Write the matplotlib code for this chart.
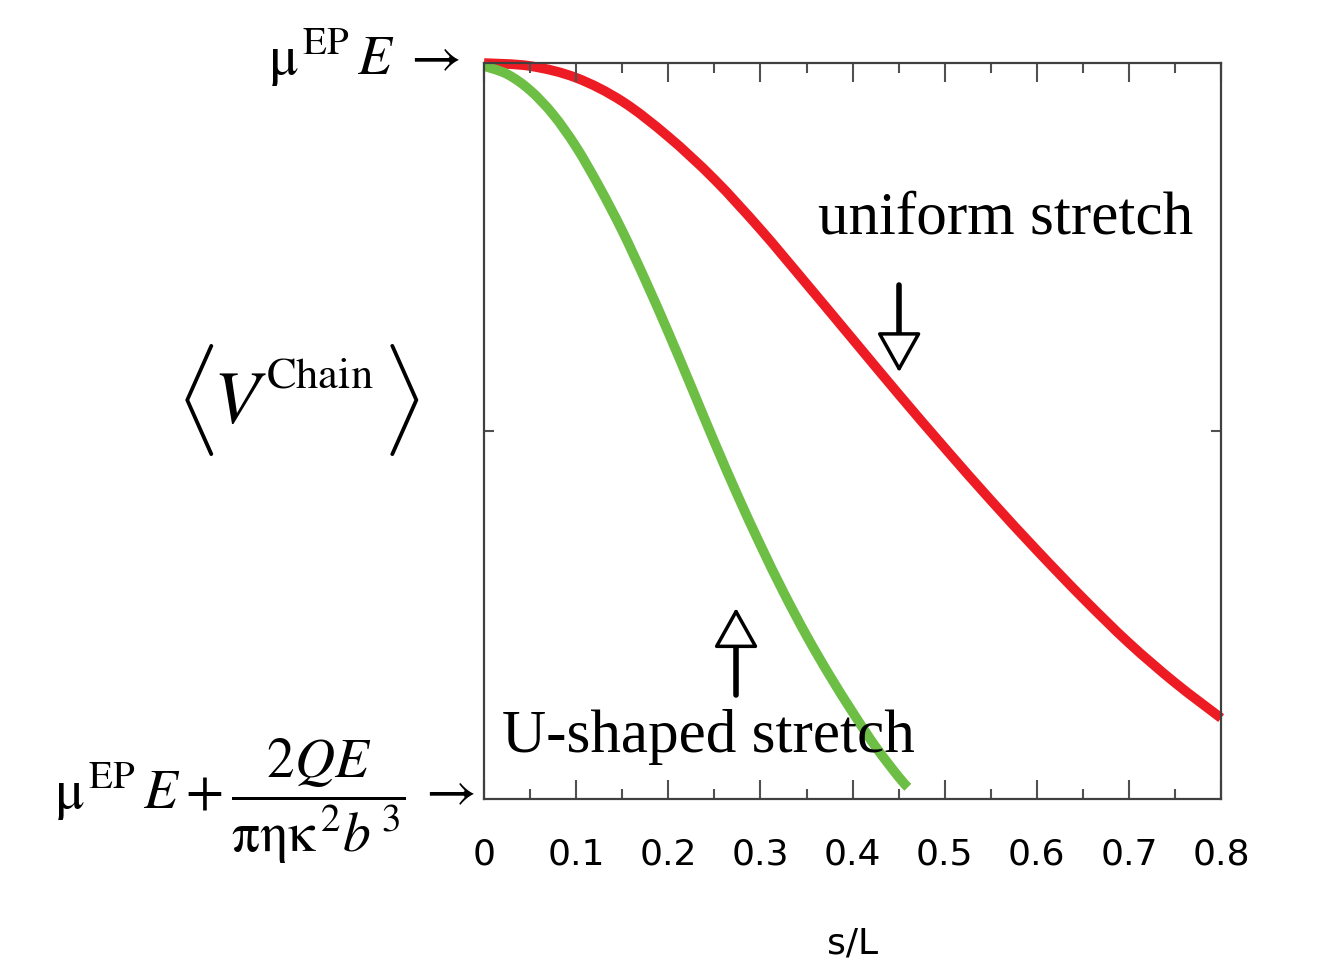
import matplotlib
matplotlib.use("Agg")
import matplotlib.pyplot as plt
from matplotlib.path import Path
from matplotlib.patches import PathPatch
from matplotlib.ticker import MultipleLocator

# values (s/L, normalised <V^Chain>)
s_uniform = [0.0, 0.05, 0.1, 0.15, 0.2, 0.25, 0.3, 0.35, 0.4, 0.45, 0.5,
             0.55, 0.6, 0.65, 0.7, 0.75, 0.8]
v_uniform = [1.0, 0.996, 0.980, 0.948, 0.900, 0.842, 0.774, 0.700, 0.625,
             0.550, 0.477, 0.406, 0.338, 0.273, 0.212, 0.158, 0.110]

s_ushape = [0.0, 0.025, 0.05, 0.075, 0.1, 0.125, 0.15, 0.175, 0.2, 0.225,
            0.25, 0.275, 0.3, 0.325, 0.35, 0.375, 0.4, 0.425, 0.45, 0.46]
v_ushape = [0.996, 0.985, 0.963, 0.930, 0.886, 0.832, 0.772, 0.705, 0.634,
            0.560, 0.485, 0.413, 0.345, 0.281, 0.222, 0.168, 0.118, 0.071,
            0.030, 0.016]

x_ticks = [0, 0.1, 0.2, 0.3, 0.4, 0.5, 0.6, 0.7, 0.8]
x_ticklabels = ['0', '0.1', '0.2', '0.3', '0.4', '0.5', '0.6', '0.7', '0.8']


def smooth_path(xs, ys):
    # catmull-rom through the read points, drawn as bezier segments
    pts = list(zip(xs, ys))
    verts = [pts[0]]
    codes = [Path.MOVETO]
    n = len(pts)
    for i in range(n - 1):
        p0 = pts[i - 1] if i > 0 else pts[i]
        p1 = pts[i]
        p2 = pts[i + 1]
        p3 = pts[i + 2] if i + 2 < n else pts[i + 1]
        c1 = (p1[0] + (p2[0] - p0[0]) / 6, p1[1] + (p2[1] - p0[1]) / 6)
        c2 = (p2[0] - (p3[0] - p1[0]) / 6, p2[1] - (p3[1] - p1[1]) / 6)
        verts += [c1, c2, p2]
        codes += [Path.CURVE4] * 3
    return Path(verts, codes)


plt.rcParams['mathtext.fontset'] = 'stix'

fig = plt.figure(figsize=(13.19, 9.69), dpi=100)
ax = fig.add_axes([0.367, 0.1754, 0.5588, 0.7595])

ax.add_patch(PathPatch(smooth_path(s_uniform, v_uniform), fill=False,
                       ec='#ED1C24', lw=7, capstyle='butt', clip_on=False))
ax.add_patch(PathPatch(smooth_path(s_ushape, v_ushape), fill=False,
                       ec='#6DBE45', lw=7, capstyle='butt', clip_on=False))

ax.set_xlim(0, 0.8)
ax.set_ylim(0, 1)
ax.set_xticks(x_ticks)
ax.set_xticklabels(x_ticklabels)
ax.xaxis.set_minor_locator(MultipleLocator(0.05))
ax.set_yticks([0.5])
ax.set_yticklabels([])

for sp in ax.spines.values():
    sp.set_color('#404040')
    sp.set_linewidth(1.6)

ax.tick_params(axis='x', which='major', direction='in', top=True, length=14,
               width=1.5, color='#505050', labelsize=26, pad=28)
ax.tick_params(axis='x', which='minor', direction='in', top=True, length=7,
               width=1.5, color='#505050')
ax.tick_params(axis='y', which='major', direction='in', right=True, length=7,
               width=1.5, color='#505050')

ax.set_xlabel('s/L', fontsize=26, labelpad=39)

# curve labels and pointing arrows
ax.text(0.3626, 0.769, 'uniform stretch', fontsize=44,
        family='Liberation Serif', va='baseline', ha='left')
ax.text(0.0195, 0.064, 'U-shaped stretch', fontsize=44,
        family='Liberation Serif', va='baseline', ha='left', clip_on=False)

arrow_kw = dict(arrowstyle='-|>,head_length=25,head_width=14',
                mutation_scale=1, fc='white', ec='black', lw=2.5,
                shrinkA=0, shrinkB=0)
ax.annotate('', xy=(0.4505, 0.580), xytext=(0.4505, 0.698),
            arrowprops=arrow_kw)
ax.plot([0.4505, 0.4505], [0.698, 0.628], color='black', lw=4,
        solid_capstyle='round')
ax.annotate('', xy=(0.2735, 0.2595), xytext=(0.2735, 0.141),
            arrowprops=arrow_kw)
ax.plot([0.2735, 0.2735], [0.141, 0.212], color='black', lw=4,
        solid_capstyle='round')

# y-axis annotations
fig.text(0.3487, 0.9226, r'$\mathrm{\mu}^{\,\mathrm{EP}}\,E\;\rightarrow$',
         fontsize=40, ha='right', va='baseline')

# <V^Chain> built from pieces so the brackets can be tall and thin
fig.text(0.1478, 0.5872, r'$\langle$', fontsize=68, ha='center',
         va='center', math_fontfamily='cm')
fig.text(0.3040, 0.5872, r'$\rangle$', fontsize=68, ha='center',
         va='center', math_fontfamily='cm')
fig.text(0.1615, 0.5635, r'$V$', fontsize=54, ha='left', va='baseline')
fig.text(0.2017, 0.5996, r'$\mathrm{Chain}$', fontsize=32, ha='left',
         va='baseline')

fig.text(0.3601, 0.1734,
         r'$\mathrm{\mu}^{\,\mathrm{EP}}\,E+\dfrac{2QE}{\mathrm{\pi\eta\kappa}^{\,2}b^{\,3}}\,\rightarrow$',
         fontsize=40, ha='right', va='center')

fig.savefig('out.png', dpi=100)
